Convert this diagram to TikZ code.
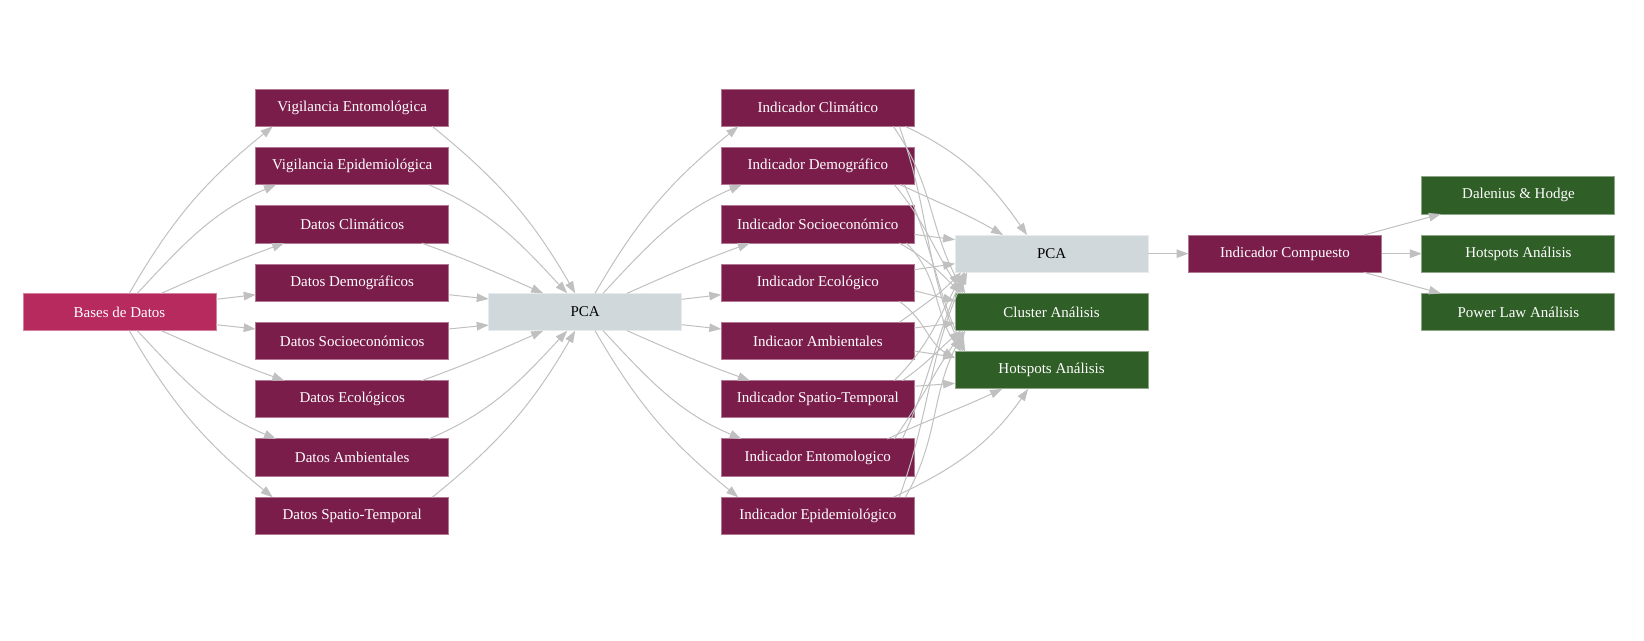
\documentclass[tikz,border=0pt]{standalone}
\usepackage{fontspec}
\setmainfont{Liberation Serif}
\usetikzlibrary{arrows.meta,positioning}
\definecolor{raspberry}{RGB}{182,42,94}
\definecolor{plum}{RGB}{123,29,75}
\definecolor{mist}{RGB}{209,216,220}
\definecolor{moss}{RGB}{47,94,39}
\definecolor{wire}{RGB}{192,192,192}
\tikzset{card/.style={minimum width=193pt,minimum height=37.3pt,inner sep=0pt,outer sep=0pt,line width=1pt,font=\fontsize{15}{18}\selectfont},src/.style={card,fill=raspberry,draw=raspberry!60!white,text=white},dat/.style={card,fill=plum,draw=plum!60!white,text=white},pca/.style={card,fill=mist,draw=mist!50!white,text=black},res/.style={card,fill=moss,draw=moss!55!white,text=white},link/.style={-{Triangle[length=12pt,width=8.5pt]},draw=wire,line width=1pt}}

\begin{document}
\begin{tikzpicture}[x=1pt,y=1pt,node distance=21pt and 40.4pt]
\useasboundingbox (0,0) rectangle (1644,640);
% sources
\node[src] (bases) at (119.5,328) {Bases de Datos};
\node[dat] (vent) at (352.2,532.2) {Vigilancia Entomológica};
\node[dat,below=of vent] (vepi) {Vigilancia Epidemiológica};
\node[dat,below=of vepi] (dclim) {Datos Climáticos};
\node[dat,below=of dclim] (ddem) {Datos Demográficos};
\node[dat,below=of ddem] (dsoc) {Datos Socioeconómicos};
\node[dat,below=of dsoc] (deco) {Datos Ecológicos};
\node[dat,below=of deco] (damb) {Datos Ambientales};
\node[dat,below=of damb] (dst) {Datos Spatio-Temporal};
\node[pca] (pcaA) at (585.2,328) {PCA};
% indicators
\node[dat] (iclim) at (817.8,532.2) {Indicador Climático};
\node[dat,below=of iclim] (idem) {Indicador Demográfico};
\node[dat,below=of idem] (isoc) {Indicador Socioeconómico};
\node[dat,below=of isoc] (ieco) {Indicador Ecológico};
\node[dat,below=of ieco] (iamb) {Indicaor Ambientales};
\node[dat,below=of iamb] (ist) {Indicador Spatio-Temporal};
\node[dat,below=of ist] (ient) {Indicador Entomologico};
\node[dat,below=of ient] (iepi) {Indicador Epidemiológico};
% analysis
\node[pca] (pcaB) at (1051.6,386.3) {PCA};
\node[res,below=of pcaB] (clus) {Cluster Análisis};
\node[res,below=of clus] (hotA) {Hotspots Análisis};
\node[dat,right=of pcaB] (icomp) {Indicador Compuesto};
\node[res,right=of icomp] (hotB) {Hotspots Análisis};
\node[res,above=of hotB] (dalen) {Dalenius \& Hodge};
\node[res,below=of hotB] (power) {Power Law Análisis};
% fan out / fan in
\foreach \n/\sx/\o/\ex/\q in {vent/9.8/60/17/-141,vepi/17.8/47/20.3/-157,dclim/41.8/24/28.6/-160}{
  \draw[link] ([xshift=\sx pt]bases.north) to[out=\o,in=\q] ([xshift=\ex pt]\n.south west);}
\foreach \n/\sx/\o/\ex/\q in {dst/9.8/-60/17/141,damb/17.8/-47/20.3/157,deco/41.8/-24/28.6/160}{
  \draw[link] ([xshift=\sx pt]bases.south) to[out=\o,in=\q] ([xshift=\ex pt]\n.north west);}
\draw[link] ([yshift=12.7pt]bases.east) -- ([yshift=-12pt]ddem.west);
\draw[link] ([yshift=-12.7pt]bases.east) -- ([yshift=12pt]dsoc.west);
\foreach \n/\sx/\o/\ex/\q in {vent/-16.4/-39/-10/120,vepi/-20/-23/-18/133,dclim/-27/-20/-42/156}{
  \draw[link] ([xshift=\sx pt]\n.south east) to[out=\o,in=\q] ([xshift=\ex pt]pcaA.north);}
\foreach \n/\sx/\o/\ex/\q in {dst/-16.4/39/-10/-120,damb/-20/23/-18/-133,deco/-27/20/-42/-156}{
  \draw[link] ([xshift=\sx pt]\n.north east) to[out=\o,in=\q] ([xshift=\ex pt]pcaA.south);}
\draw[link] ([yshift=-12pt]ddem.east) -- ([yshift=13pt]pcaA.west);
\draw[link] ([yshift=12pt]dsoc.east) -- ([yshift=-13pt]pcaA.west);
\foreach \n/\sx/\o/\ex/\q in {iclim/9.8/60/17/-141,idem/17.8/47/20.3/-157,isoc/41.8/24/28.6/-160}{
  \draw[link] ([xshift=\sx pt]pcaA.north) to[out=\o,in=\q] ([xshift=\ex pt]\n.south west);}
\foreach \n/\sx/\o/\ex/\q in {iepi/9.8/-60/17/141,ient/17.8/-47/20.3/157,ist/41.8/-24/28.6/160}{
  \draw[link] ([xshift=\sx pt]pcaA.south) to[out=\o,in=\q] ([xshift=\ex pt]\n.north west);}
\draw[link] ([yshift=12.7pt]pcaA.east) -- ([yshift=-12pt]ieco.west);
\draw[link] ([yshift=-12.7pt]pcaA.east) -- ([yshift=12pt]iamb.west);
% indicators to analysis
\draw[link] ([xshift=-9pt]iclim.south east) to[out=-25,in=125] ([xshift=72pt]pcaB.north west);
\draw[link] ([xshift=-21pt]iclim.south east) to[out=-55,in=120] ([xshift=10pt]clus.north west);
\draw[link] ([xshift=-15pt]iclim.south east) to[out=-70,in=115] ([xshift=8pt]hotA.north west);
\draw[link] ([xshift=-14pt]idem.south east) to[out=-25,in=150] ([xshift=48pt]pcaB.north west);
\draw[link] ([xshift=-20pt]idem.south east) to[out=-50,in=125] ([xshift=8pt]clus.north west);
\draw[link] ([xshift=-10pt]idem.south east) to[out=-65,in=115] ([xshift=10pt]hotA.north west);
\draw[link] ([yshift=-10pt]isoc.east) -- ([yshift=14pt]pcaB.west);
\draw[link] ([xshift=-15pt]isoc.south east) to[out=-30,in=135] ([xshift=6pt]clus.north west);
\draw[link] ([xshift=-8pt]isoc.south east) to[out=-45,in=125] ([xshift=6pt]hotA.north west);
\draw[link] ([yshift=13pt]ieco.east) -- ([yshift=-10pt]pcaB.west);
\draw[link] ([yshift=-8pt]ieco.east) -- ([yshift=11pt]clus.west);
\draw[link] ([xshift=-15pt]ieco.south east) to[out=-35,in=150] ([yshift=12pt]hotA.west);
\draw[link] ([xshift=-15pt]iamb.north east) to[out=35,in=-135] ([xshift=6pt]pcaB.south west);
\draw[link] ([yshift=13pt]iamb.east) -- ([yshift=-11pt]clus.west);
\draw[link] ([yshift=-10pt]iamb.east) -- ([yshift=13pt]hotA.west);
\draw[link] ([xshift=-20pt]ist.north east) to[out=45,in=-120] ([xshift=9pt]pcaB.south west);
\draw[link] ([xshift=-12pt]ist.north east) to[out=35,in=-140] ([xshift=6pt]clus.south west);
\draw[link] ([yshift=13pt]ist.east) -- ([yshift=-13pt]hotA.west);
\draw[link] ([xshift=-27pt]ient.north east) to[out=25,in=-155] ([xshift=47pt]hotA.south west);
\draw[link] ([xshift=-20pt]ient.north east) to[out=55,in=-125] ([xshift=8pt]clus.south west);
\draw[link] ([xshift=-12pt]ient.north east) to[out=65,in=-115] ([xshift=10pt]pcaB.south west);
\draw[link] ([xshift=-21pt]iepi.north east) to[out=25,in=-125] ([xshift=73pt]hotA.south west);
\draw[link] ([xshift=-9pt]iepi.north east) to[out=60,in=-120] ([xshift=10pt]clus.south west);
\draw[link] ([xshift=-15pt]iepi.north east) to[out=70,in=-115] ([xshift=12pt]pcaB.south west);
% composite
\draw[link] (pcaB) -- (icomp);
\draw[link] ([xshift=-17.6pt]icomp.north east) -- ([xshift=19pt]dalen.south west);
\draw[link] (icomp) -- (hotB);
\draw[link] ([xshift=-17.6pt]icomp.south east) -- ([xshift=19pt]power.north west);
\end{tikzpicture}
\end{document}
